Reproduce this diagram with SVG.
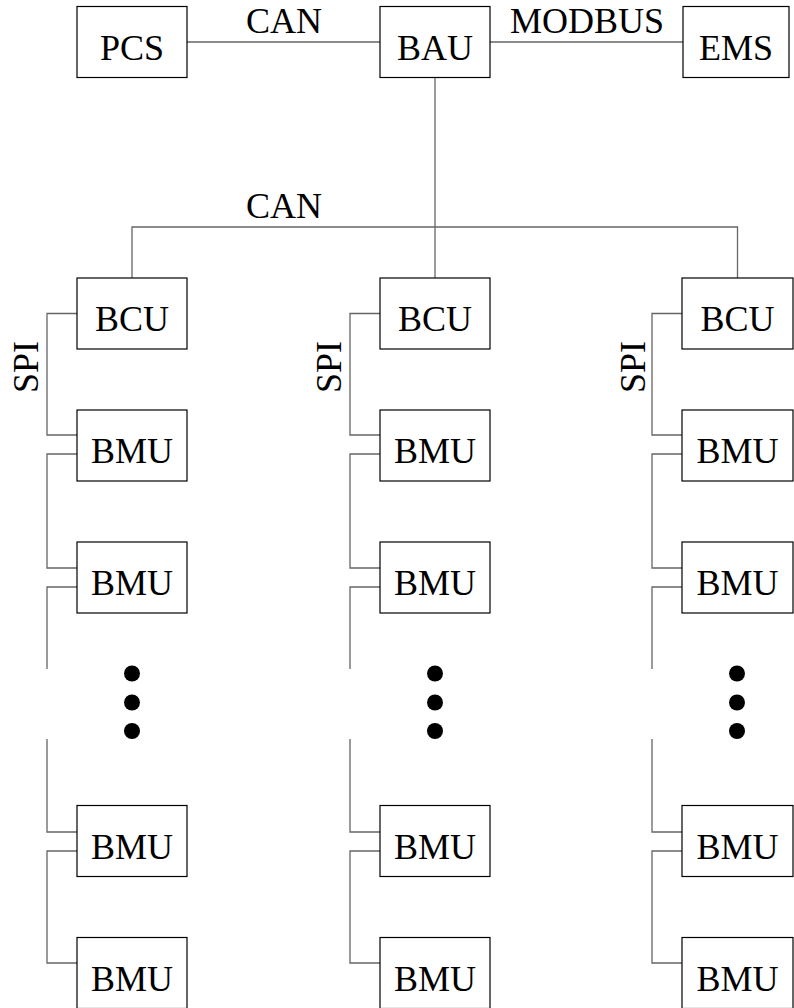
<svg xmlns="http://www.w3.org/2000/svg" width="794" height="1008" viewBox="0 0 794 1008">
<style>
.box{fill:#fff;stroke:#000;stroke-width:1.2}
.lbl{font-family:"Liberation Serif",Tinos,"Times New Roman",Times,"Noto Serif","DejaVu Serif",FreeSerif,serif;font-size:36px;fill:#000;text-anchor:middle}
.wire{fill:none;stroke:#666;stroke-width:1.3}
.dot{fill:#000}
</style>
<rect width="794" height="1008" fill="#fff"/>
<g id="connectors">
<path class="wire" d="M187,42H380M490,42H683M435,77.5V278M132,278V227H737.5V278"/>
<path class="wire" d="M77,313.5H47V435H77M77,454H47V568H77M77,587H47V669M47,739V832H77M77,851H47V963H77"/>
<path class="wire" d="M380,313.5H350V435H380M380,454H350V568H380M380,587H350V669M350,739V832H380M380,851H350V963H380"/>
<path class="wire" d="M682,313.5H652V435H682M682,454H652V568H682M682,587H652V669M652,739V832H682M682,851H652V963H682"/>
</g>
<g id="labels">
<text class="lbl" x="284" y="33">CAN</text>
<text class="lbl" x="587" y="33">MODBUS</text>
<text class="lbl" x="284" y="218">CAN</text>
<text class="lbl" transform="translate(38,367) rotate(-90)">SPI</text>
<text class="lbl" transform="translate(341,367) rotate(-90)">SPI</text>
<text class="lbl" transform="translate(645,367) rotate(-90)">SPI</text>
</g>
<g id="PCS"><rect class="box" x="77" y="6.5" width="110" height="71"/><text class="lbl" x="132" y="59.5">PCS</text></g>
<g id="BAU"><rect class="box" x="380" y="6.5" width="110" height="71"/><text class="lbl" x="435" y="59.5">BAU</text></g>
<g id="EMS"><rect class="box" x="683" y="6.5" width="106" height="71"/><text class="lbl" x="736" y="59.5">EMS</text></g>
<g id="BCU1"><rect class="box" x="77" y="278" width="110" height="71"/><text class="lbl" x="132" y="331">BCU</text></g>
<g id="BCU2"><rect class="box" x="380" y="278" width="110" height="71"/><text class="lbl" x="435" y="331">BCU</text></g>
<g id="BCU3"><rect class="box" x="682" y="278" width="111" height="71"/><text class="lbl" x="737.5" y="331">BCU</text></g>
<g id="BMU1a"><rect class="box" x="77" y="410" width="110" height="71"/><text class="lbl" x="132" y="463">BMU</text></g>
<g id="BMU2a"><rect class="box" x="77" y="542" width="110" height="71"/><text class="lbl" x="132" y="595">BMU</text></g>
<g id="BMU3a"><rect class="box" x="77" y="805.5" width="110" height="71"/><text class="lbl" x="132" y="858.5">BMU</text></g>
<g id="BMU4a"><rect class="box" x="77" y="937.5" width="110" height="71"/><text class="lbl" x="132" y="990.5">BMU</text></g>
<g id="BMU1b"><rect class="box" x="380" y="410" width="110" height="71"/><text class="lbl" x="435" y="463">BMU</text></g>
<g id="BMU2b"><rect class="box" x="380" y="542" width="110" height="71"/><text class="lbl" x="435" y="595">BMU</text></g>
<g id="BMU3b"><rect class="box" x="380" y="805.5" width="110" height="71"/><text class="lbl" x="435" y="858.5">BMU</text></g>
<g id="BMU4b"><rect class="box" x="380" y="937.5" width="110" height="71"/><text class="lbl" x="435" y="990.5">BMU</text></g>
<g id="BMU1c"><rect class="box" x="682" y="410" width="111" height="71"/><text class="lbl" x="737.5" y="463">BMU</text></g>
<g id="BMU2c"><rect class="box" x="682" y="542" width="111" height="71"/><text class="lbl" x="737.5" y="595">BMU</text></g>
<g id="BMU3c"><rect class="box" x="682" y="805.5" width="111" height="71"/><text class="lbl" x="737.5" y="858.5">BMU</text></g>
<g id="BMU4c"><rect class="box" x="682" y="937.5" width="111" height="71"/><text class="lbl" x="737.5" y="990.5">BMU</text></g>
<g id="ellipsis">
<circle class="dot" cx="132" cy="673.5" r="8"/><circle class="dot" cx="132" cy="702.5" r="8"/><circle class="dot" cx="132" cy="731" r="8"/>
<circle class="dot" cx="435" cy="673.5" r="8"/><circle class="dot" cx="435" cy="702.5" r="8"/><circle class="dot" cx="435" cy="731" r="8"/>
<circle class="dot" cx="737" cy="673.5" r="8"/><circle class="dot" cx="737" cy="702.5" r="8"/><circle class="dot" cx="737" cy="731" r="8"/>
</g>
</svg>
